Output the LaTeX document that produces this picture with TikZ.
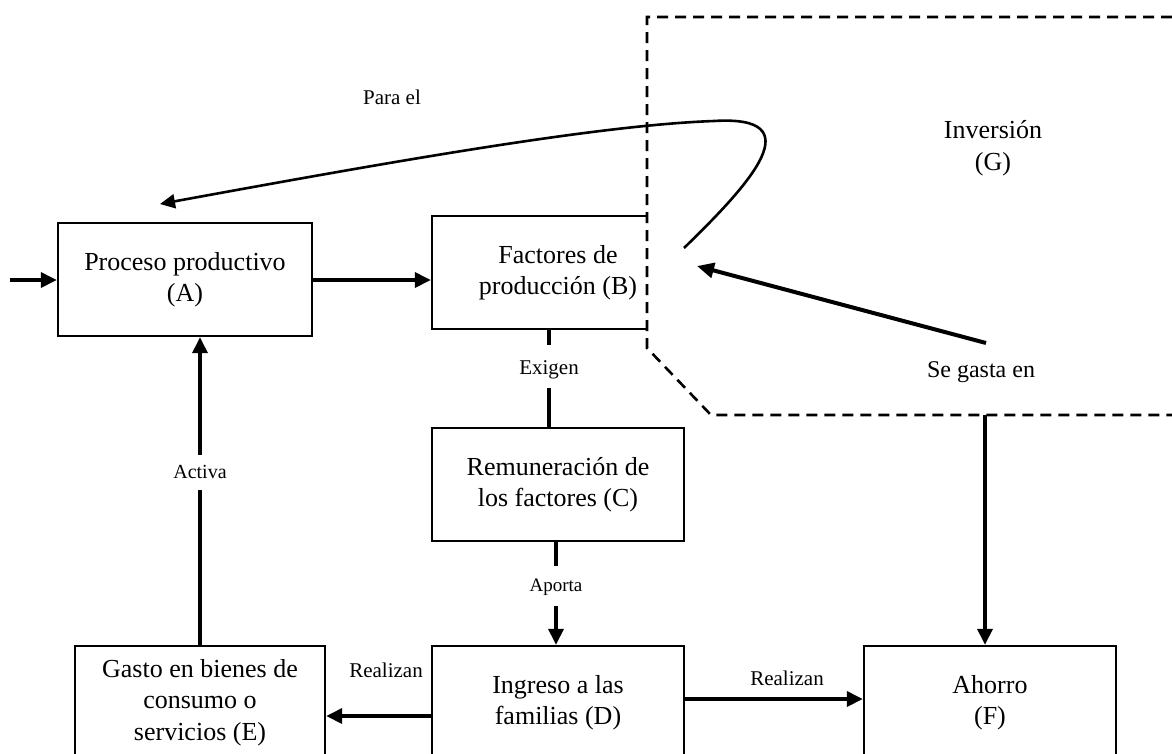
\documentclass[tikz,border=0pt]{standalone}
\usepackage{fontspec}
\setmainfont{Liberation Serif}
\usetikzlibrary{arrows.meta,calc}
\newcommand\boxfont{\fontsize{26}{31.5}\selectfont}
\newcommand\labfont[1]{\fontsize{#1}{#1}\selectfont}
\begin{document}
\begin{tikzpicture}[x=1pt,y=-1pt,
  box/.style={draw, line width=2.4pt, align=center, inner sep=0pt, font=\boxfont, minimum height=113pt},
  ln/.style={line width=3.6pt},
  arr/.style={line width=3.6pt, -{Triangle[length=16pt,width=15pt]}},
  arrc/.style={line width=2.6pt, -{Triangle[length=15pt,width=14pt]}},
  gline/.style={line width=2.6pt, dash pattern=on 11pt off 7pt},
  lbl/.style={inner sep=0pt, align=center}]
\useasboundingbox (0,0) rectangle (1172,753);
% boxes
\node[box, minimum width=254pt] (A) at (185,279.5) {Proceso productivo\\(A)};
\node[box, minimum width=252pt] (B) at (558,272.5) {Factores de\\producción (B)};
\node[box, minimum width=252pt] (C) at (558,484.5) {Remuneración de\\los factores (C)};
\node[box, minimum width=252pt] (D) at (558,702.5) {Ingreso a las\\familias (D)};
\node[box, minimum width=250pt] (E) at (200,702.5) {Gasto en bienes de\\consumo o\\servicios (E)};
\node[box, minimum width=252pt] (F) at (990,702.5) {Ahorro\\(F)};
% investment region
\draw[gline, fill=white] (1190,17) -- (647,17) -- (647,348) -- (711,415) -- (1190,415);
\node[lbl, font=\boxfont] (G) at (993,148) {Inversión\\(G)};
% coordinates
\coordinate (in) at (10,280);
\coordinate (bcx) at (549,0);
\coordinate (gb) at (985,415);
\coordinate (sgs) at (986,343);
\coordinate (sgt) at (697,266);
\coordinate (cs) at (684,248);
\coordinate (ct) at (160,204);
% labels
\node[lbl, font=\labfont{21}] (exigen) at (549,370) {Exigen};
\node[lbl, font=\labfont{19}] (aporta) at (556,587) {Aporta};
\node[lbl, font=\labfont{20}] (activa) at (200,472) {Activa};
\node[lbl, font=\labfont{21}] (real1) at (386,670) {Realizan};
\node[lbl, font=\labfont{21}] (real2) at (787,678) {Realizan};
\node[lbl, font=\labfont{24}] (segasta) at (981,372) {Se gasta en};
\node[lbl, font=\labfont{21}] (parael) at (392,97) {Para el};
% connectors
\draw[arr] (in) -- (A.west |- in);
\draw[arr] (A.east |- in) -- (B.west |- in);
\draw[ln] (bcx |- B.south) -- (549,345);
\draw[ln] (549,388) -- (bcx |- C.north);
\draw[ln] (C.south -| 556,0) -- (556,566);
\draw[arr] (556,606) -- (D.north -| 556,0);
\draw[ln] (E.north) -- (200,490);
\draw[arr] (200,455) -- (E.north |- A.south);
\draw[arr] (D.west |- 0,716) -- (E.east |- 0,716);
\draw[arr] (D.east |- 0,699) -- (F.west |- 0,699);
\draw[arr] (gb) -- (gb |- F.north);
\draw[line width=4pt, -{Triangle[length=17pt,width=15pt]}] (sgs) -- (sgt);
\draw[arrc] (cs) .. controls (752,182) and (812,115) .. (714,121)
  .. controls (600,125) and (400,160) .. (ct);
\end{tikzpicture}
\end{document}
